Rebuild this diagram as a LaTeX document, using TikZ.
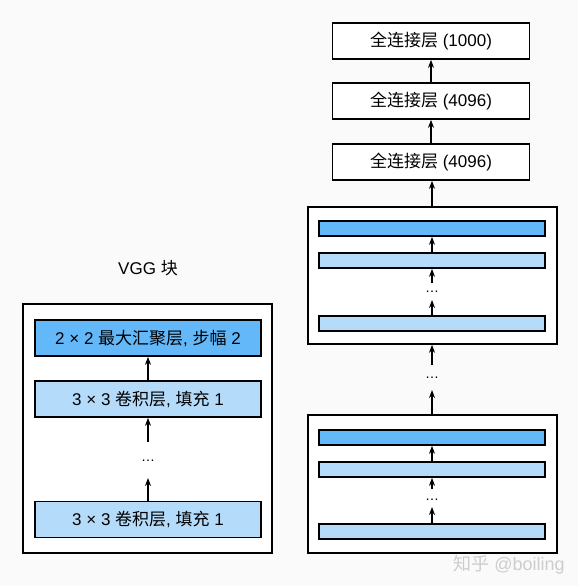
\documentclass[tikz,border=0pt]{standalone}
\usepackage{fontspec}
\setmainfont{Liberation Sans}
\newfontfamily\cjk{Noto Sans CJK SC}
\usetikzlibrary{arrows.meta}
\definecolor{bgc}{RGB}{250,250,250}
\definecolor{dblue}{RGB}{99,184,249}
\definecolor{lblue}{RGB}{181,219,251}
\definecolor{wm}{RGB}{205,205,205}
\begin{document}
\begin{tikzpicture}[x=1pt,y=-1pt,
  outerbox/.style={draw=black,line width=1.7pt,fill=white,minimum width=249pt,inner sep=0pt},
  layerbox/.style={draw=black,line width=1.7pt,minimum width=226pt,minimum height=36pt,inner sep=0pt,font=\fontsize{17}{18}\selectfont},
  fcbox/.style={draw=black,line width=1.7pt,fill=white,minimum width=197pt,minimum height=36pt,inner sep=0pt,font=\fontsize{17}{18}\selectfont},
  bar/.style={draw=black,line width=1.7pt,minimum width=226pt,minimum height=15pt,inner sep=0pt},
  dk/.style={fill=dblue},
  lt/.style={fill=lblue},
  arr/.style={-{Stealth[length=8pt,width=6pt]},line width=1.5pt},
  dotsnode/.style={font=\fontsize{14}{14}\selectfont,inner sep=0pt}
]
\useasboundingbox (0,0) rectangle (578,586);
\fill[bgc] (0,0) rectangle (578,586);

% ---------- left: VGG block ----------
\node[font=\fontsize{17}{18}\selectfont] (title) at (148,268) {VGG {\cjk 块}};
\node[outerbox,minimum height=249pt] (lbox) at (147.5,428.5) {};
\node[layerbox,dk] (lp) at (148,338) {2 × 2 {\cjk 最大汇聚层}, {\cjk 步幅} 2};
\node[layerbox,lt] (lc2) at (148,399) {3 × 3 {\cjk 卷积层}, {\cjk 填充} 1};
\node[layerbox,lt] (lc1) at (148,519.5) {3 × 3 {\cjk 卷积层}, {\cjk 填充} 1};
\node[dotsnode] (ldots) at (148,461) {\ldots};
\coordinate (la) at (148,442);
\coordinate (lb) at (148,478);
\draw[arr] (lc2.north) -- (lp.south);
\draw[arr] (la) -- (lc2.south);
\draw[arr] (lc1.north) -- (lb);

% ---------- right: full network ----------
\node[fcbox] (fc1) at (431,41) {{\cjk 全连接层} (1000)};
\node[fcbox] (fc2) at (431,101) {{\cjk 全连接层} (4096)};
\node[fcbox] (fc3) at (431,162) {{\cjk 全连接层} (4096)};
\draw[arr] (fc2.north) -- (fc1.south);
\draw[arr] (fc3.north) -- (fc2.south);

% upper VGG block
\node[outerbox,minimum height=137pt] (ub) at (432.5,275.5) {};
\node[bar,dk] (ub1) at (432,228.5) {};
\node[bar,lt] (ub2) at (432,260.5) {};
\node[bar,lt] (ub3) at (432,323.5) {};
\node[dotsnode] (udots) at (432,292) {\ldots};
\coordinate (ua) at (432,283);
\coordinate (ubb) at (432,300);
\draw[arr] (ub2.north) -- (ub1.south);
\draw[arr] (ua) -- (ub2.south);
\draw[arr] (ub3.north) -- (ubb);
\draw[arr] (432,207) coordinate (ubtop) -- (ubtop |- fc3.south);

% between blocks
\node[dotsnode] (mdots) at (432,378) {\ldots};
\coordinate (ma) at (432,365);
\coordinate (mb) at (432,390);

% lower VGG block
\node[outerbox,minimum height=138pt] (lbk) at (432.5,484) {};
\node[bar,dk] (lb1) at (432,437.5) {};
\node[bar,lt] (lb2) at (432,469.5) {};
\node[bar,lt] (lb3) at (432,531.5) {};
\node[dotsnode] (lbdots) at (432,500) {\ldots};
\coordinate (lba) at (432,489);
\coordinate (lbb) at (432,507);
\draw[arr] (lb2.north) -- (lb1.south);
\draw[arr] (lba) -- (lb2.south);
\draw[arr] (lb3.north) -- (lbb);

\draw[arr] (ma) -- (432,344.8);
\draw[arr] (432,414.2) -- (mb);

% watermark
\node[text=wm,font=\fontsize{18}{18}\selectfont,inner sep=0pt] (wmark) at (509,565) {{\cjk 知乎} @boiling};
\end{tikzpicture}
\end{document}
